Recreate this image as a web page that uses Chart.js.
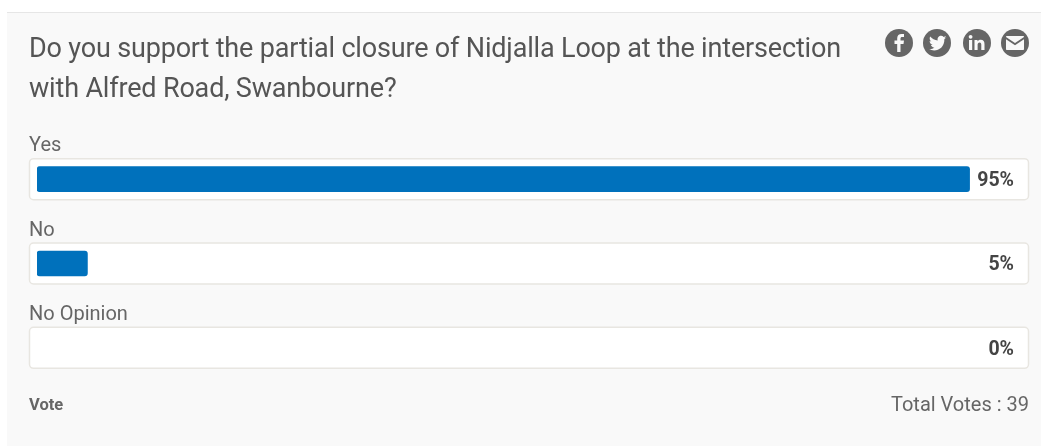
<!DOCTYPE html>
<html>
<head>
<meta charset="utf-8">
<title>Poll</title>
<script src="https://cdn.jsdelivr.net/npm/chart.js@4"></script>
<style>
html, body { margin: 0; padding: 0; background: #fff; overflow: hidden; }
#panel { position: absolute; left: 7px; top: 12px; width: 1034px; height: 434px; background: #f9f9f9; border-top: 1px solid #e6e6e6; box-sizing: border-box; }
#chart { position: absolute; left: 0; top: 0; }
#question { position: absolute; left: 29px; top: 28px; width: 840px; font: 27px/40px Roboto, sans-serif; color: #555; letter-spacing: -0.17px; }
#icons { position: absolute; left: 884px; top: 28px; }
#vote { position: absolute; left: 29px; top: 395px; font: bold 16.5px/20px Roboto, sans-serif; color: #666; }
#total { position: absolute; right: 12px; top: 392px; font: 20px/24px Roboto, sans-serif; color: #666; }
</style>
</head>
<body>
<div id="panel"></div>
<canvas id="chart" width="1041" height="446"></canvas>
<div id="question">Do you support the partial closure of Nidjalla Loop at the intersection<br>with Alfred Road, Swanbourne?</div>
<svg id="icons" width="146" height="30" viewBox="0 0 146 30">
  <g fill="#666"><circle cx="15" cy="15" r="14"/><circle cx="53" cy="15" r="14"/><circle cx="93" cy="15" r="14"/><circle cx="131" cy="15" r="14"/></g>
  <path fill="#f9f9f9" d="M16.5 24v-8h3l.5-3.4h-3.500v-2c0-1 .4-1.600 1.700-1.600H20V6.100c-.5-.1-1.500-.2-2.500-.2-2.600 0-4.300 1.500-4.300 4.300v2.400H10.500V16h2.700v8z"/>
  <path fill="#f9f9f9" d="M62 9.500c-.7.300-1.400.5-2.100.6.800-.5 1.300-1.200 1.600-2-.7.400-1.500.7-2.300.9-1.500-1.600-4-1.500-5.300.1-.8 1-1 2.100-.7 3.300-3-.2-5.600-1.500-7.500-3.800-1 1.700-.5 3.900 1.100 5-.6 0-1.200-.2-1.700-.5 0 1.800 1.300 3.400 3 3.800-.5.200-1.100.2-1.700.1.500 1.500 1.900 2.600 3.500 2.600-1.500 1.200-3.400 1.700-5.300 1.500 5.400 3.300 15.500.800 15.300-10 .8-.5 1.400-1.100 1.900-1.900z" transform="translate(0.500 0)"/>
  <g fill="#f9f9f9"><rect x="85" y="12" width="3.200" height="10"/><circle cx="86.600" cy="8.800" r="1.900"/><path d="M90.500 12h3v1.400c.6-1 1.800-1.700 3.200-1.700 2.800 0 3.800 1.700 3.800 4.500V22h-3.200v-5.200c0-1.300-.4-2.300-1.700-2.300s-2 1-2 2.300V22h-3.100z"/></g>
  <path fill="#f9f9f9" d="M123 8h16c.6 0 1 .4 1 1l-9 6-9-6c0-.6.400-1 1-1zM122 11.300l9 5.900 9-5.900V21c0 .6-.4 1-1 1h-16c-.6 0-1-.4-1-1z"/>
</svg>
<div id="vote">Vote</div>
<div id="total">Total Votes : 39</div>
<script>
// Dati del sondaggio
const options = ['Yes', 'No', 'No Opinion'];
const votes = [37, 2, 0];
const totalVotes = 39;

// Disegna i riquadri bianchi dietro le barre
const trackPlugin = {
    id: 'tracks',
    beforeDatasetsDraw(chart) {
        const c = chart.ctx;
        const y = chart.scales.y;
        c.save();
        options.forEach((name, i) => {
            const mid = y.getPixelForValue(i);
            c.beginPath();
            c.roundRect(29.5, mid - 20.5, 999, 41, 4);
            c.fillStyle = '#fff';
            c.fill();
            c.strokeStyle = '#e8e6e1';
            c.lineWidth = 1.5;
            c.stroke();
            c.fillStyle = '#666';
            c.font = '20px Roboto, sans-serif';
            c.textBaseline = 'alphabetic';
            c.textAlign = 'left';
            c.fillText(name, 29, mid - 28);
        });
        c.restore();
    },
    afterDatasetsDraw(chart) {
        const c = chart.ctx;
        const y = chart.scales.y;
        c.save();
        votes.forEach((v, i) => {
            const pct = Math.round(v / totalVotes * 100);
            c.fillStyle = '#444';
            c.font = 'bold 19.5px Roboto, sans-serif';
            c.textAlign = 'right';
            c.textBaseline = 'middle';
            c.fillText(pct + '%', 1014, y.getPixelForValue(i) + 2);
        });
        c.restore();
    }
};

new Chart(document.getElementById('chart').getContext('2d'), {
    type: 'bar',
    data: {
        labels: options,
        datasets: [{
            label: 'Votes',
            data: votes,
            // la barra a zero non deve lasciare il segno
            backgroundColor: ctx => ctx.raw > 0 ? '#0071bc' : 'transparent',
            borderWidth: 0,
            borderRadius: 3,
            borderSkipped: false,
            barThickness: 25
        }]
    },
    options: {
        indexAxis: 'y',
        responsive: false,
        animation: false,
        layout: { padding: { left: 37, right: 21, top: 137, bottom: 56 } },
        plugins: { legend: { display: false }, tooltip: { enabled: false } },
        scales: {
            x: { display: false, min: 0, max: totalVotes },
            y: { display: false }
        }
    },
    plugins: [trackPlugin]
});
</script>
</body>
</html>
